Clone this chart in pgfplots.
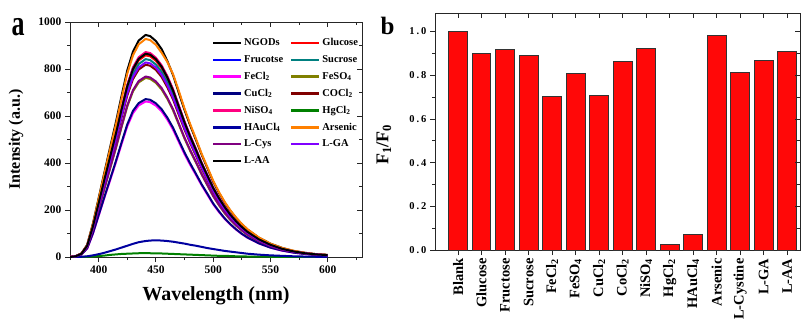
\documentclass[border=0pt]{standalone}
\usepackage{pgfplots}
\usepackage{pgfplotstable}
\usepackage{fontspec}
\setmainfont{Liberation Serif}
\pgfplotsset{compat=1.18}

\definecolor{cNG}{RGB}{0,0,0}
\definecolor{cGL}{RGB}{255,0,0}
\definecolor{cFR}{RGB}{0,0,255}
\definecolor{cSU}{RGB}{0,128,128}
\definecolor{cFC}{RGB}{255,0,255}
\definecolor{cFS}{RGB}{128,128,0}
\definecolor{cCU}{RGB}{0,0,128}
\definecolor{cCO}{RGB}{128,0,0}
\definecolor{cNI}{RGB}{255,0,128}
\definecolor{cHG}{RGB}{0,128,0}
\definecolor{cHA}{RGB}{0,0,160}
\definecolor{cAR}{RGB}{255,128,0}
\definecolor{cLC}{RGB}{128,0,128}
\definecolor{cLG}{RGB}{128,0,255}
\definecolor{cLA}{RGB}{0,0,0}
\definecolor{barred}{RGB}{255,8,8}

\pgfplotstableread{
wl NG GL FR SU FC FS CU CO NI HG HA AR LC LG LA
375 0 0 0 0 0 0 0 0 0 0 0 0 0 0 0
380 4 3 3 3 3 3 3 3 3 0 0 4 3 3 3
385 15 14 14 13 11 12 11 13 14 0 1 15 12 13 14
390 52 47 48 46 36 42 37 45 48 1 3 51 42 46 48
395 142 129 130 126 99 114 101 123 131 2 7 139 115 124 130
400 250 227 230 223 175 202 178 217 231 4 12 246 204 219 229
405 359 326 330 320 252 290 255 311 331 6 18 353 292 315 329
410 466 423 428 415 326 376 331 403 430 9 25 458 379 408 426
415 572 519 525 509 401 461 407 495 528 11 32 561 465 501 523
420 685 622 629 610 480 552 487 593 632 13 40 673 557 600 627
425 794 721 729 707 556 640 564 687 732 14 48 780 645 696 727
430 874 794 803 779 612 705 622 757 807 15 56 858 710 766 800
435 921 837 846 821 645 743 655 798 850 16 63 905 749 807 843
441 945 858 868 842 662 762 672 818 872 16 68 928 768 828 865
445 940 854 864 838 659 758 669 814 868 16 70 923 764 824 861
450 919 835 845 819 644 741 654 796 848 15 71 903 747 806 842
455 885 803 812 788 620 713 629 766 816 15 70 869 719 775 810
460 834 758 766 743 585 673 593 722 770 14 68 830 678 731 764
465 774 703 711 690 542 624 550 670 714 13 65 778 629 678 708
470 699 635 642 623 490 564 497 605 645 12 61 707 568 613 640
475 626 568 575 557 438 504 445 542 577 11 57 632 508 548 573
480 559 508 514 498 392 451 398 484 516 10 52 565 455 490 512
485 498 452 457 444 349 402 354 431 460 9 48 503 405 436 456
490 435 395 399 387 305 351 309 376 401 8 43 439 353 381 398
495 378 343 347 337 265 305 269 327 349 7 38 382 307 331 346
500 321 292 295 286 225 259 228 278 296 6 34 325 261 282 294
505 274 249 252 244 192 221 195 237 253 5 30 277 223 240 251
510 232 211 214 207 163 187 165 201 215 5 26 235 189 204 213
515 197 178 181 175 138 158 140 170 181 4 23 199 160 172 180
520 166 151 153 148 117 134 118 144 153 3 20 168 135 146 152
525 140 127 128 125 98 113 99 121 129 3 17 141 114 123 128
530 117 106 108 104 82 94 83 101 108 2 14 118 95 103 107
540 82 75 76 73 58 66 58 71 76 2 10 83 67 72 75
550 57 51 52 51 40 46 40 49 52 1 7 57 46 50 52
560 39 35 36 35 27 31 28 34 36 1 5 39 31 34 35
570 26 24 24 24 19 21 19 23 24 0 3 27 22 23 24
580 18 16 16 16 13 14 13 16 17 0 2 18 15 16 16
590 12 11 11 11 9 10 9 11 11 0 1 12 10 11 11
600 9 8 8 8 6 7 6 7 8 0 1 9 7 7 8
}\spectra

\pgfplotstableread{
x f
0 1.000
1 0.901
2 0.919
3 0.889
4 0.701
5 0.806
6 0.707
7 0.863
8 0.921
9 0.026
10 0.073
11 0.983
12 0.812
13 0.869
14 0.908
}\ratios

\begin{document}
\begin{tikzpicture}[x=1pt,y=1pt]
\useasboundingbox (0,0) rectangle (805,322);

% ---------- panel a ----------
\begin{axis}[
  at={(70pt,65pt)}, anchor=south west, scale only axis,
  width=292pt, height=235pt,
  xmin=375, xmax=630, ymin=0, ymax=1000,
  axis line style={line width=0.8pt, black!85},
  tick style={line width=0.8pt, black!85},
  tick align=outside, tick pos=left,
  major tick length=5pt, minor tick length=3pt,
  xtick={400,450,500,550,600},
  minor xtick={375,425,475,525,575,625},
  ytick={0,200,400,600,800,1000},
  yticklabels={0,200,400,600,800,1000},
  minor ytick={100,300,500,700,900},
  ticklabel style={font=\bfseries\fontsize{11.5}{12}\selectfont},
  /pgf/number format/assume math mode=true,
  xlabel={Wavelength (nm)},
  xlabel style={font=\bfseries\fontsize{20}{22}\selectfont, at={(axis description cs:0.5,-0.183)}, anchor=base},
  ylabel={Intensity (a.u.)},
  ylabel style={font=\bfseries\fontsize{16}{18}\selectfont, at={(axis description cs:-0.185,0.5)}, anchor=center},
  legend columns=2,
  legend cell align=left,
  legend style={draw=none, fill=none, at={(0.475,0.948)}, anchor=north west,
     font=\bfseries\fontsize{10.5}{11}\selectfont, row sep=4.2pt,
     /tikz/every even column/.append style={column sep=5pt}},
  legend image code/.code={\draw[#1, line width=2.2pt] (0pt,0pt) -- (28pt,0pt);},
  every axis plot/.append style={line width=2pt, line join=round},
]
\addplot[cNG] table[x=wl,y=NG]{\spectra}; \addlegendentry{NGODs}
\addplot[cGL] table[x=wl,y=GL]{\spectra}; \addlegendentry{Glucose}
\addplot[cFR] table[x=wl,y=FR]{\spectra}; \addlegendentry{Frucotse}
\addplot[cSU] table[x=wl,y=SU]{\spectra}; \addlegendentry{Sucrose}
\addplot[cFC] table[x=wl,y=FC]{\spectra}; \addlegendentry{FeCl\textsubscript{2}}
\addplot[cFS] table[x=wl,y=FS]{\spectra}; \addlegendentry{FeSO\textsubscript{4}}
\addplot[cCU] table[x=wl,y=CU]{\spectra}; \addlegendentry{CuCl\textsubscript{2}}
\addplot[cCO] table[x=wl,y=CO]{\spectra}; \addlegendentry{COCl\textsubscript{2}}
\addplot[cNI] table[x=wl,y=NI]{\spectra}; \addlegendentry{NiSO\textsubscript{4}}
\addplot[cHG] table[x=wl,y=HG]{\spectra}; \addlegendentry{HgCl\textsubscript{2}}
\addplot[cHA] table[x=wl,y=HA]{\spectra}; \addlegendentry{HAuCl\textsubscript{4}}
\addplot[cAR] table[x=wl,y=AR]{\spectra}; \addlegendentry{Arsenic}
\addplot[cLC] table[x=wl,y=LC]{\spectra}; \addlegendentry{L-Cys}
\addplot[cLG] table[x=wl,y=LG]{\spectra}; \addlegendentry{L-GA}
\addplot[cLA] table[x=wl,y=LA]{\spectra}; \addlegendentry{L-AA}
\end{axis}
% inward ticks on top/right of panel a
\begin{axis}[
  at={(70pt,65pt)}, anchor=south west, scale only axis,
  width=292pt, height=235pt,
  xmin=375, xmax=630, ymin=0, ymax=1000,
  axis x line*=top, axis y line*=right,
  axis line style={line width=0.8pt, black!85, -},
  tick style={line width=0.8pt, black!85},
  tick align=inside,
  major tick length=5pt, minor tick length=3pt,
  xtick={400,450,500,550,600},
  minor xtick={375,425,475,525,575,625},
  ytick={0,200,400,600,800,1000},
  minor ytick={100,300,500,700,900},
  xticklabels={}, yticklabels={},
]
\addplot[draw=none] coordinates {(400,500)};
\end{axis}

% ---------- panel b ----------
\begin{axis}[
  at={(435pt,72pt)}, anchor=south west, scale only axis,
  width=365pt, height=237pt,
  xmin=-0.98, xmax=14.55, ymin=0, ymax=1.085,
  axis line style={line width=0.8pt, black!85},
  tick style={line width=0.8pt, black!85},
  tick align=outside, tick pos=left,
  major tick length=5pt, minor tick length=3pt,
  xtick={0,1,...,14},
  xticklabels={Blank,Glucose,Fructose,Sucrose,FeCl\textsubscript{2},FeSO\textsubscript{4},CuCl\textsubscript{2},CoCl\textsubscript{2},NiSO\textsubscript{4},HgCl\textsubscript{2},HAuCl\textsubscript{4},Arsenic,L-Cystine,L-GA,L-AA},
  xticklabel style={rotate=90, anchor=east, font=\bfseries\fontsize{14.5}{15}\selectfont},
  ytick={0,0.2,0.4,0.6,0.8,1.0},
  yticklabels={0\hspace{2pt}.\hspace{2pt}0,0\hspace{2pt}.\hspace{2pt}2,0\hspace{2pt}.\hspace{2pt}4,0\hspace{2pt}.\hspace{2pt}6,0\hspace{2pt}.\hspace{2pt}8,1\hspace{2pt}.\hspace{2pt}0},
  minor ytick={0.1,0.3,0.5,0.7,0.9},
  yticklabel style={font=\bfseries\fontsize{10.5}{11}\selectfont},
  ylabel={F\textsubscript{1}/F\textsubscript{0}},
  ylabel style={font=\bfseries\fontsize{18}{20}\selectfont, at={(axis description cs:-0.14,0.445)}, anchor=center},
]
\addplot[ybar, bar width=0.8, bar shift=0pt, fill=barred, draw=black!80, line width=0.9pt] table[x=x,y=f]{\ratios};
\end{axis}
\begin{axis}[
  at={(435pt,72pt)}, anchor=south west, scale only axis,
  width=365pt, height=237pt,
  xmin=-0.98, xmax=14.55, ymin=0, ymax=1.085,
  axis x line*=top, axis y line*=right,
  axis line style={line width=0.8pt, black!85, -},
  tick style={line width=0.8pt, black!85},
  tick align=inside,
  major tick length=5pt, minor tick length=3pt,
  xtick={0,1,...,14},
  ytick={0,0.2,0.4,0.6,0.8,1.0},
  minor ytick={0.1,0.3,0.5,0.7,0.9},
  xticklabels={}, yticklabels={},
]
\addplot[draw=none] coordinates {(0,0.5)};
\end{axis}

\node[font=\bfseries\fontsize{26}{26}\selectfont, anchor=center] at (18,295) {\scalebox{1}[1.4]{a}};
\node[font=\bfseries\fontsize{25}{25}\selectfont, anchor=base] at (387.5,287) {b};
\end{tikzpicture}
\end{document}
